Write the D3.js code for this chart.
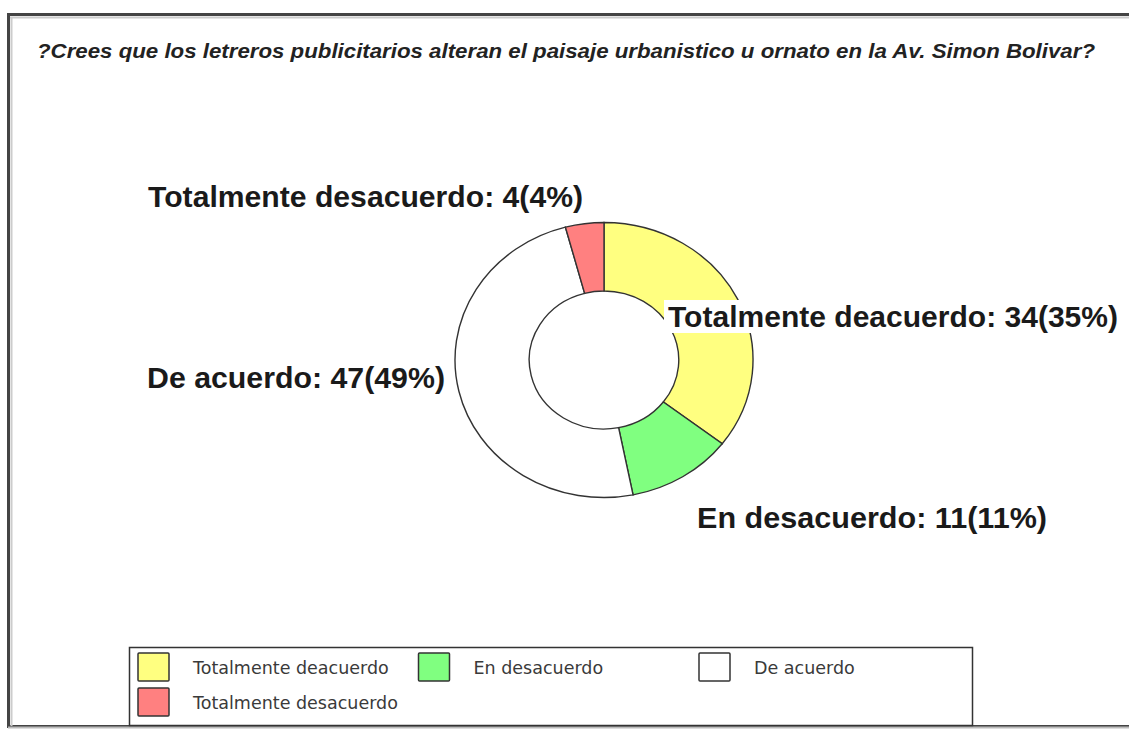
<!DOCTYPE html>
<html>
<head>
<meta charset="utf-8">
<script src="https://cdn.jsdelivr.net/npm/d3@7"></script>
<style>
  body { margin: 0; background: #fff; }
  svg { display: block; }
</style>
</head>
<body>
<svg id="chart" width="1129" height="729"></svg>
<script>
// data
const title = "?Crees que los letreros publicitarios alteran el paisaje urbanistico u ornato en la Av. Simon Bolivar?";
const categories = ["Totalmente deacuerdo", "En desacuerdo", "De acuerdo", "Totalmente desacuerdo"];
const values = [34, 11, 47, 4];
const colors = ["#ffff80", "#80ff80", "#ffffff", "#ff8080"];

const svg = d3.select("#chart");
const total = d3.sum(values);

// frame
svg.append("rect").attr("x", 8.5).attr("y", 14.5).attr("width", 1130).attr("height", 712)
  .attr("fill", "#fff").attr("stroke", "#444").attr("stroke-width", 3);
svg.append("line").attr("x1", 10).attr("x2", 1129).attr("y1", 17.5).attr("y2", 17.5)
  .attr("stroke", "#ccc").attr("stroke-width", 2);
svg.append("line").attr("x1", 11.5).attr("x2", 11.5).attr("y1", 17).attr("y2", 726)
  .attr("stroke", "#ccc").attr("stroke-width", 2);
svg.append("line").attr("x1", 8).attr("x2", 1129).attr("y1", 727.5).attr("y2", 727.5)
  .attr("stroke", "#bbb").attr("stroke-width", 2);

svg.append("text")
  .attr("x", 37).attr("y", 58)
  .attr("font-family", "Liberation Sans, Arial, sans-serif")
  .attr("font-size", 20).attr("font-weight", "bold").attr("font-style", "italic")
  .attr("fill", "#222")
  .attr("textLength", 1058).attr("lengthAdjust", "spacingAndGlyphs")
  .text(title);

// pie
const cx = 604, cy = 360, ry = 137.5, sx = 149 / 137.5;
const pie = d3.pie().sort(null).value(d => d)(values);
const arc = d3.arc().innerRadius(69).outerRadius(ry);

const g = svg.append("g").attr("transform", `translate(${cx},${cy}) scale(${sx},1)`);
g.selectAll("path").data(pie).enter().append("path")
  .attr("d", arc)
  .attr("fill", (d, i) => colors[i])
  .attr("stroke", "#333")
  .attr("stroke-width", 1.4)
  .attr("vector-effect", "non-scaling-stroke");

// labels
const labelPos = [
  { x: 668, y: 327, w: 450, bg: true },
  { x: 697, y: 528, w: 350 },
  { x: 147, y: 388, w: 298 },
  { x: 148, y: 207, w: 435 }
];
const fmt = (v) => `${Math.round(v / total * 100)}%`;
pie.forEach((d, i) => {
  const p = labelPos[i];
  if (p.bg) {
    svg.append("rect").attr("x", p.x - 4).attr("y", p.y - 27).attr("width", p.w + 8).attr("height", 33)
      .attr("fill", "#fff");
  }
  svg.append("text")
    .attr("x", p.x).attr("y", p.y)
    .attr("font-family", "Liberation Sans, Arial, sans-serif")
    .attr("font-size", 29).attr("font-weight", "bold")
    .attr("fill", "#1a1a1a")
    .attr("textLength", p.w).attr("lengthAdjust", "spacingAndGlyphs")
    .text(`${categories[i]}: ${values[i]}(${fmt(values[i])})`);
});

// legend
svg.append("rect").attr("x", 129.5).attr("y", 647.5).attr("width", 843).attr("height", 78)
  .attr("fill", "#fff").attr("stroke", "#333").attr("stroke-width", 1.5);
const leg = svg.selectAll(".leg").data(categories).enter().append("g")
  .attr("transform", (d, i) => `translate(${138 + (i % 3) * 280.5},${653 + Math.floor(i / 3) * 35})`);
leg.append("rect").attr("width", 31).attr("height", 28).attr("rx", 1)
  .attr("fill", (d, i) => colors[i]).attr("stroke", "#333").attr("stroke-width", 1.5);
leg.append("text").attr("x", 55).attr("y", 21)
  .attr("font-family", "DejaVu Sans, Tahoma, sans-serif")
  .attr("font-size", 17.5).attr("fill", "#3a3a3a")
  .text(d => d);
</script>
</body>
</html>
